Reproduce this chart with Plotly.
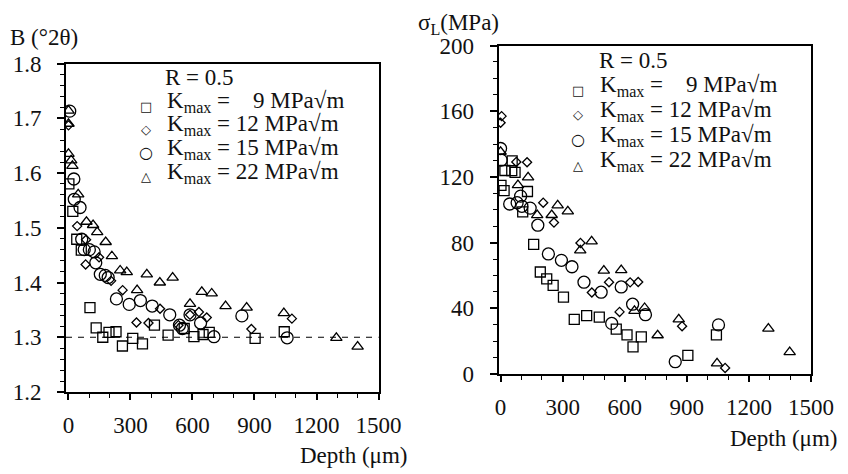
import plotly.graph_objects as go

FONT = "Liberation Serif, Times New Roman, Times, serif"
# the page adds an 8px body margin, so the figure is drawn 8px in from the window corner
OFF = 8
W, H = 848 - OFF, 474 - OFF

# ---------------- data: left panel, B (°2θ) vs depth (µm) ----------------
b_k9_depth = [2, 21, 40, 62, 104, 134, 166, 196, 230, 261, 311, 358, 416, 482, 560, 607, 651, 681, 903, 1044]
b_k9_val = [1.580, 1.530, 1.479, 1.459, 1.354, 1.317, 1.300, 1.309, 1.310, 1.284, 1.298, 1.288, 1.322,
            1.304, 1.316, 1.301, 1.305, 1.309, 1.298, 1.310]

b_k12_depth = [0, 42, 83, 85, 148, 206, 262, 329, 387, 443, 532, 588, 631, 669, 885, 1081]
b_k12_val = [1.687, 1.503, 1.433, 1.478, 1.446, 1.403, 1.386, 1.327, 1.326, 1.352, 1.322, 1.341, 1.346,
             1.336, 1.315, 1.334]

b_k15_depth = [6, 26, 28, 56, 64, 76, 101, 124, 132, 154, 178, 192, 232, 294, 348, 405, 490, 537, 551,
               588, 639, 704, 839, 1058]
b_k15_val = [1.713, 1.589, 1.552, 1.537, 1.479, 1.460, 1.460, 1.456, 1.436, 1.415, 1.413, 1.409, 1.370,
             1.360, 1.367, 1.357, 1.341, 1.322, 1.316, 1.341, 1.326, 1.301, 1.339, 1.299]

b_k22_depth = [0, 0, 0, 13, 19, 47, 87, 119, 139, 180, 210, 250, 282, 332, 379, 442, 504, 588, 645, 693,
               760, 862, 1042, 1296, 1399]
b_k22_val = [1.714, 1.690, 1.635, 1.623, 1.613, 1.561, 1.511, 1.505, 1.492, 1.474, 1.448, 1.422, 1.419,
             1.386, 1.415, 1.400, 1.409, 1.361, 1.383, 1.380, 1.357, 1.354, 1.344, 1.299, 1.283]

b_reference_level = 1.30

# ---------------- data: right panel, sigma_L (MPa) vs depth (µm) ----------------
s_k9_depth = [2, 17, 21, 54, 56, 70, 107, 130, 160, 192, 223, 254, 304, 356, 416, 477, 559, 611, 640,
              680, 905, 1043]
s_k9_val = [114.9, 111.7, 123.9, 123.8, 129.8, 122.7, 98.7, 111.1, 78.9, 62.1, 57.9, 54.0, 46.8, 33.2,
            35.5, 34.6, 27.3, 23.8, 16.5, 22.6, 11.3, 23.8]

s_k12_depth = [5, 0, 76, 128, 206, 258, 386, 441, 524, 575, 626, 665, 877, 1085]
s_k12_val = [157.0, 153.0, 129.1, 128.9, 104.3, 92.2, 79.8, 49.6, 55.9, 37.8, 55.8, 56.0, 29.1, 3.7]

s_k15_depth = [0, 3, 44, 80, 97, 103, 143, 180, 231, 294, 345, 403, 486, 537, 583, 638, 700, 844, 1053]
s_k15_val = [137.3, 130.2, 103.5, 104.3, 108.3, 102.1, 101.0, 90.6, 73.1, 69.2, 65.3, 55.9, 49.8, 30.8,
             53.0, 42.5, 36.1, 7.5, 29.9]

s_k22_depth = [0, 84, 133, 177, 247, 276, 325, 385, 440, 499, 583, 647, 696, 759, 861, 1046, 1294, 1397]
s_k22_val = [135.3, 115.0, 119.7, 96.7, 96.8, 102.7, 99.0, 75.3, 80.8, 62.9, 63.2, 38.4, 40.2, 23.6,
             33.3, 6.5, 27.6, 13.3]

# ---------------- labels ----------------
series_names = ["K<sub>max</sub> =\u00a0\u00a0\u00a0 9 MPa\u221am",
                "K<sub>max</sub> = 12 MPa\u221am",
                "K<sub>max</sub> = 15 MPa\u221am",
                "K<sub>max</sub> = 22 MPa\u221am"]
depth_ticks = [0, 300, 600, 900, 1200, 1500]
b_ticks = [1.2, 1.3, 1.4, 1.5, 1.6, 1.7, 1.8]
s_ticks = [0, 40, 80, 120, 160, 200]

symbols = ["square-open", "diamond-open", "circle-open", "triangle-up-open"]
sizes = [10, 7, 12, 10]
glyphs = ["\u25a1", "\u25c7", "\u25cb", "\u25b3"]
glyph_sizes = [13, 13, 16, 13]

fig = go.Figure()

left = [(b_k9_depth, b_k9_val), (b_k12_depth, b_k12_val), (b_k15_depth, b_k15_val), (b_k22_depth, b_k22_val)]
right = [(s_k9_depth, s_k9_val), (s_k12_depth, s_k12_val), (s_k15_depth, s_k15_val), (s_k22_depth, s_k22_val)]

for i, (x, y) in enumerate(left):
    fig.add_trace(go.Scatter(x=x, y=y, mode="markers", name=series_names[i], xaxis="x", yaxis="y",
                             showlegend=False,
                             marker=dict(symbol=symbols[i], size=sizes[i], color="black",
                                         line=dict(color="black", width=1.3))))
for i, (x, y) in enumerate(right):
    fig.add_trace(go.Scatter(x=x, y=y, mode="markers", name=series_names[i], xaxis="x2", yaxis="y2",
                             showlegend=False,
                             marker=dict(symbol=symbols[i], size=sizes[i], color="black",
                                         line=dict(color="black", width=1.3))))


def px(x):
    # reference-image pixel -> paper fraction
    return (x - OFF) / W


def py(y):
    return 1 - (y - OFF) / H


tickfont = dict(family=FONT, size=23, color="#111")
common_x = dict(showline=True, linecolor="black", linewidth=2, mirror=True, ticks="outside",
                ticklen=6, tickwidth=1.5, tickcolor="black", showgrid=False, zeroline=False,
                tickfont=tickfont, tickvals=depth_ticks, ticklabelstandoff=5, automargin=False,
                minor=dict(dtick=100, ticks="outside", ticklen=4, tickcolor="black", tickwidth=1.2))

fig.update_layout(
    width=W, height=H, margin=dict(l=0, r=0, t=0, b=0, autoexpand=False),
    paper_bgcolor="white", plot_bgcolor="white", showlegend=False,
    font=dict(family=FONT, color="#111"),
    xaxis=dict(domain=[px(66), px(378.5)], range=[-12, 1500], anchor="y", **common_x),
    yaxis=dict(domain=[py(392), py(63.5)], range=[1.2, 1.8], anchor="x", showline=True,
               linecolor="black", linewidth=2, mirror=True, ticks="outside", ticklen=7, tickwidth=1.5,
               tickcolor="black", showgrid=False, zeroline=False, tickfont=tickfont,
               tickvals=b_ticks, tickformat=".1f", ticklabelstandoff=11, automargin=False,
               minor=dict(dtick=0.02, ticks="outside", ticklen=4, tickcolor="black", tickwidth=1.2)),
    xaxis2=dict(domain=[px(498.5), px(811)], range=[-10, 1500], anchor="y2", **common_x),
    yaxis2=dict(domain=[py(374), py(45.5)], range=[0, 200], anchor="x2", showline=True,
                linecolor="black", linewidth=2, mirror=True, ticks="outside", ticklen=7, tickwidth=1.5,
                tickcolor="black", showgrid=False, zeroline=False, tickfont=tickfont,
                tickvals=s_ticks, ticklabelstandoff=11, automargin=False,
                minor=dict(dtick=10, ticks="outside", ticklen=4, tickcolor="black", tickwidth=1.2)),
)

fig.add_shape(type="line", xref="x domain", yref="y", x0=0, x1=1, y0=b_reference_level,
              y1=b_reference_level, line=dict(color="black", width=1.2, dash="6px,6px"))

ann = []
txt = dict(family=FONT, size=23, color="#111")
ann.append(dict(x=px(8), y=py(38), text="B (\u00b02\u03b8)", xanchor="left", yanchor="middle", font=txt))
ann.append(dict(x=px(416), y=py(24), text="\u03c3<sub>L</sub>(MPa)", xanchor="left", yanchor="middle", font=txt))
ann.append(dict(x=px(410), y=py(455), text="Depth (\u03bcm)", xanchor="right", yanchor="middle", font=txt))
ann.append(dict(x=px(840), y=py(438), text="Depth (\u03bcm)", xanchor="right", yanchor="middle", font=txt))

# legend blocks
legend_specs = [
    # (R label x, R label y, text x, first row y, glyph x, row spacing)
    (163, 77, 165, 102, 146, 23.5),
    (597, 60, 598, 86, 578, 25),
]
for (rx, ry, tx, y0, gx, dy) in legend_specs:
    ann.append(dict(x=px(rx), y=py(ry), text="R = 0.5", xanchor="left", yanchor="middle", font=txt))
    for i in range(4):
        yy = y0 + i * dy
        ann.append(dict(x=px(tx), y=py(yy), text=series_names[i], xanchor="left", yanchor="middle", font=txt))
        ann.append(dict(x=px(gx), y=py(yy + 4), text=glyphs[i], xanchor="center", yanchor="middle",
                        font=dict(family="DejaVu Sans", size=glyph_sizes[i], color="#111")))

for a in ann:
    a.update(xref="paper", yref="paper", showarrow=False)
fig.update_layout(annotations=ann)

fig.write_html("out.html")
